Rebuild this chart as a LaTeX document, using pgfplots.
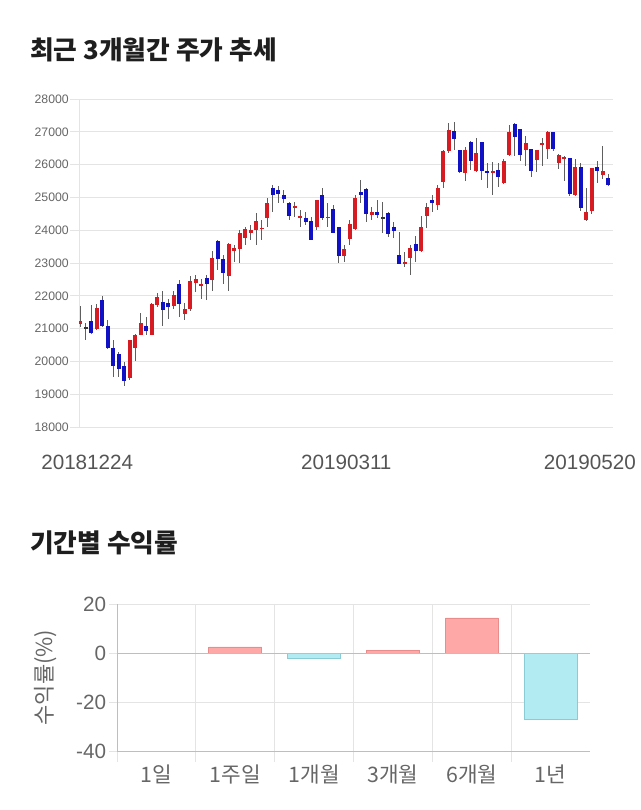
\documentclass[border=0pt]{standalone}
\usepackage{pgfplots}
\pgfplotsset{compat=1.18}
\usepackage{pgfplotstable}
\usepackage{fontspec}
\setmainfont{Liberation Sans}
\newfontfamily\kr{Noto Sans CJK KR}

\definecolor{cred}{RGB}{214,28,34}
\definecolor{cblue}{RGB}{16,16,196}
\definecolor{wick}{RGB}{95,95,95}
\definecolor{gridc}{RGB}{228,228,228}
\definecolor{tickc}{RGB}{102,102,102}
\definecolor{labc}{RGB}{85,85,85}
\definecolor{titlec}{RGB}{30,30,30}
\definecolor{posfill}{RGB}{255,168,168}
\definecolor{posdraw}{RGB}{232,140,140}
\definecolor{negfill}{RGB}{178,235,242}
\definecolor{negdraw}{RGB}{138,204,214}
\definecolor{zeroc}{RGB}{190,190,190}

% up candles (close > open), red
\pgfplotstableread{
x o h l c
0 21130 21700 21060 21240
3 20975 21740 20950 21620
9 19500 20650 19420 20650
10 20410 20850 20000 20800
11 20820 21470 20800 21180
13 20820 21775 20800 21740
14 21720 22080 21670 21970
17 21700 22160 21600 22010
19 21450 21790 21250 21600
20 21600 22600 21550 22460
21 22400 22620 22130 22510
22 22300 22520 21910 22370
24 22470 23370 22160 23160
27 22600 23610 22160 23570
28 23360 23540 23030 23460
29 23440 24000 23010 23930
30 23770 24100 23540 24030
31 23920 24150 23700 24020
32 24000 24510 23540 24275
33 24030 24300 23700 24080
34 24360 24970 24100 24840
39 24670 24870 24410 24735
40 24370 24630 24100 24430
43 24100 24920 24000 24920
45 24370 24820 24100 24410
48 23220 23550 23040 23420
49 23720 24310 23550 24180
50 24030 25070 24000 24970
53 24470 24720 24310 24570
59 22970 23330 22890 23020
60 23160 23550 22630 23470
62 23370 24440 23350 24090
63 24420 24820 24060 24720
65 24770 25380 24620 25280
66 25480 26440 25280 26410
67 26420 27270 26340 27070
70 25730 26540 25510 26460
72 25810 26800 25780 26340
75 25730 26090 25075 25810
77 25430 26160 25400 26110
78 26290 27220 26260 27000
81 26440 26870 25960 26650
83 26140 26460 25780 26440
84 26610 26820 25960 26650
85 26490 27020 26160 27000
87 26040 26310 25860 26290
88 26190 26260 25500 26240
90 25080 26160 25050 25940
92 24300 25300 24290 24550
93 24600 25910 24500 25910
95 25690 26560 25560 25790
}\upc

% down candles (close < open), blue
\pgfplotstableread{
x o h l c
2 21230 21720 20850 20870
4 21880 21980 21060 21090
5 21080 21260 20390 20410
6 20410 20650 19520 19860
7 20215 20290 19520 19770
8 19875 19980 19260 19410
12 21070 21360 20800 20920
15 21820 22160 21080 21560
16 21790 21910 21300 21650
18 22360 22470 21350 21760
23 22550 22620 21860 22360
25 23660 23700 22780 23110
26 23110 23230 22370 22700
35 25275 25380 24570 25070
36 25220 25360 24820 25090
37 25070 25225 24820 24960
38 24820 24870 24300 24430
41 24380 24560 24150 24255
42 24285 24410 23700 23715
44 25070 25275 24300 24380
46 24660 24765 23900 23920
47 24090 24090 22990 23220
51 25170 25530 24820 25070
52 25270 25290 24260 24480
54 24570 24920 24360 24460
56 24510 24560 23800 23870
57 24090 24260 23750 23970
58 23240 23950 22970 22970
61 23580 23810 23040 23380
64 24920 25075 24570 24820
68 27020 27300 26440 26770
69 26460 26460 25750 25760
71 26680 26730 25840 26120
73 26680 26700 25530 25810
74 25810 26040 25280 25730
76 25835 26040 25330 25630
79 27250 27270 26260 26840
80 27100 27100 26110 26290
82 26490 26490 25610 25790
86 27000 27000 26400 26490
89 26190 26210 25050 25100
91 25940 26060 24600 24680
94 25940 26110 25450 25790
96 25590 25710 25350 25380
}\downc

% doji candles
\pgfplotstableread{
x o h l c
1 21015 21160 20650 21045
55 24365 24850 23900 24395
}\dojic

\pgfplotsset{
  wickplot/.style={draw=none, mark=none, forget plot,
    error bars/.cd, y dir=both, y explicit, error mark=none,
    error bar style={draw=wick, line width=0.7pt, solid}},
  bodyplot/.style={draw=none, mark=none, forget plot,
    error bars/.cd, y dir=both, y explicit, error mark=none,
    error bar style={draw=#1, line width=3pt, solid}},
}

\begin{document}
\begin{tikzpicture}
\path[use as bounding box] (0,0) rectangle (480pt,-607.5pt);

\node[anchor=west, inner sep=0pt, text=titlec] at (22.5pt,-37.5pt)
  {\kr\bfseries\fontsize{19.3}{23}\selectfont 최근 3개월간 주가 추세};
\node[anchor=west, inner sep=0pt, text=titlec] at (22.5pt,-407.25pt)
  {\kr\bfseries\fontsize{19.3}{23}\selectfont 기간별 수익률};

% ---------------- candlestick chart
\begin{axis}[
  at={(59.25pt,-320.25pt)}, anchor=south west,
  scale only axis, width=400.5pt, height=246pt,
  xmin=-0.2, xmax=96.9, ymin=18000, ymax=28000,
  ytick={18000,19000,...,28000},
  scaled y ticks=false,
  xtick={1.3,48.4,92.7},
  xticklabels={20181224,20190311,20190520},
  ymajorgrids, grid style={draw=gridc, line width=0.6pt},
  axis lines*=left,
  axis line style={-, draw=gridc, line width=0.6pt},
  tick align=outside, major tick length=6.5pt,
  ytick style={draw=gridc, line width=0.6pt},
  major x tick style={draw=none},
  yticklabel style={font=\fontsize{9.2}{11}\selectfont, text=tickc,
    /pgf/number format/assume math mode=true,
    /pgf/number format/fixed,
    /pgf/number format/1000 sep={}, inner sep=1pt},
  xticklabel style={font=\fontsize{15.5}{18}\selectfont, text=labc,
    /pgf/number format/assume math mode=true, yshift=-11pt},
]
\addplot[wickplot] table[x=x, y expr={(\thisrow{h}+\thisrow{l})/2},
  y error expr={(\thisrow{h}-\thisrow{l})/2}] {\upc};
\addplot[wickplot] table[x=x, y expr={(\thisrow{h}+\thisrow{l})/2},
  y error expr={(\thisrow{h}-\thisrow{l})/2}] {\downc};
\addplot[wickplot] table[x=x, y expr={(\thisrow{h}+\thisrow{l})/2},
  y error expr={(\thisrow{h}-\thisrow{l})/2}] {\dojic};
\addplot[bodyplot=cred] table[x=x, y expr={(\thisrow{o}+\thisrow{c})/2},
  y error expr={abs(\thisrow{c}-\thisrow{o})/2}] {\upc};
\addplot[bodyplot=cblue] table[x=x, y expr={(\thisrow{o}+\thisrow{c})/2},
  y error expr={abs(\thisrow{c}-\thisrow{o})/2}] {\downc};
\addplot[bodyplot=black!80] table[x=x, y expr={(\thisrow{o}+\thisrow{c})/2},
  y error expr={abs(\thisrow{c}-\thisrow{o})/2}] {\dojic};
\end{axis}

% ---------------- returns bar chart
\begin{axis}[
  at={(87.75pt,-563.25pt)}, anchor=south west,
  scale only axis, width=354.75pt, height=110.25pt,
  xmin=-0.5, xmax=5.5, ymin=-40, ymax=20,
  ytick={-40,-20,0,20},
  xtick={0,...,5},
  xticklabels={1일,1주일,1개월,3개월,6개월,1년},
  minor xtick={-0.5,0.5,1.5,2.5,3.5,4.5},
  xminorgrids, minor grid style={draw=gridc, line width=0.6pt},
  ymajorgrids, major grid style={draw=gridc, line width=0.6pt},
  axis lines*=left,
  axis line style={-, draw=zeroc, line width=0.6pt},
  tick align=outside, major tick length=6pt, minor tick length=8pt,
  ytick style={draw=gridc, line width=0.6pt},
  major x tick style={draw=none},
  minor x tick style={draw=gridc, line width=0.6pt},
  yticklabel style={font=\fontsize{15.5}{18}\selectfont, text=tickc,
    /pgf/number format/assume math mode=true, inner sep=2pt},
  xticklabel style={font=\kr\fontsize{16}{19}\selectfont, text=tickc, yshift=-1pt},
  ylabel={\kr 수익률(\%)},
  every axis y label/.style={at={(axis description cs:-0.152,0.5)},
    rotate=90, anchor=center, font=\fontsize{16.5}{19}\selectfont, text=tickc},
]
\addplot[ybar, bar width=0.67, bar shift=0pt, fill=posfill, draw=posdraw, line width=0.6pt]
  coordinates {(1,2.46) (3,0.95) (4,14.3)};
\addplot[ybar, bar width=0.67, bar shift=0pt, fill=negfill, draw=negdraw, line width=0.6pt]
  coordinates {(2,-2.2) (5,-27.0)};
\addplot[sharp plot, draw=zeroc, line width=0.7pt, mark=none]
  coordinates {(-0.5,0) (5.5,0)};
\end{axis}
\end{tikzpicture}
\end{document}
